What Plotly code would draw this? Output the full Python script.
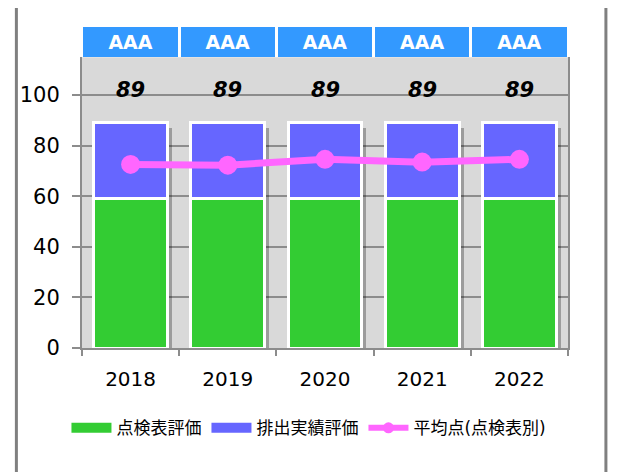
"""Stacked evaluation scores per year with rating header"""
import plotly.graph_objects as go

# Data
years = ["2018", "2019", "2020", "2021", "2022"]
checklist_score = [59, 59, 59, 59, 59]      # 点検表評価
emission_score = [30, 30, 30, 30, 30]       # 排出実績評価
average_score = [72.6, 72.3, 74.6, 73.5, 74.6]  # 平均点(点検表別)
ratings = ["AAA", "AAA", "AAA", "AAA", "AAA"]
totals = [a + b for a, b in zip(checklist_score, emission_score)]

FONT = "DejaVu Sans, Noto Sans CJK JP, sans-serif"
GRID = "#8C8C8C"
GREEN, BLUE, PINK = "#33CC33", "#6666FF", "#FF66FF"
BAR_W = 0.76
Y_RANGE = [0, 115]

fig = go.Figure()

# soft drop shadow behind the stacks (drawn on the base axis, below the bars)
fig.add_trace(go.Bar(
    x=years, y=[t - 2 for t in totals], width=BAR_W,
    offset=-BAR_W / 2 + 0.045,
    marker=dict(color="rgba(0,0,0,0.28)", line=dict(width=0)),
    showlegend=False, hoverinfo="skip",
))

fig.add_trace(go.Bar(
    x=years, y=checklist_score, name="点検表評価", yaxis="y3",
    marker=dict(color=GREEN, line=dict(color="white", width=3)),
    width=BAR_W, showlegend=False,
))
fig.add_trace(go.Bar(
    x=years, y=emission_score, name="排出実績評価", yaxis="y3",
    marker=dict(color=BLUE, line=dict(color="white", width=3)),
    width=BAR_W, showlegend=False,
))
fig.add_trace(go.Scatter(
    x=years, y=average_score, name="平均点(点検表別)", yaxis="y3",
    mode="lines+markers",
    line=dict(color=PINK, width=7),
    marker=dict(color=PINK, size=19),
    showlegend=False,
))

# legend entries (big swatches like the original)
for name, color, width, mode in [
    ("点検表評価", GREEN, 18, "lines"),
    ("排出実績評価", BLUE, 18, "lines"),
    ("平均点(点検表別)", PINK, 6, "lines+markers"),
]:
    fig.add_trace(go.Scatter(
        x=[None], y=[None], name=name, mode=mode,
        line=dict(color=color, width=width),
        marker=dict(color=color, size=11),
    ))

# rating header boxes above the plot
fig.add_trace(go.Bar(
    x=years, y=[1] * len(years), yaxis="y2",
    width=0.97, marker=dict(color="#3399FF", line=dict(width=0)),
    text=ratings, textposition="inside", insidetextanchor="middle",
    textfont=dict(color="white", size=19, family="DejaVu Sans"),
    texttemplate="<b>%{text}</b>",
    showlegend=False, hoverinfo="skip",
))

# total labels (category axis -> use the category index)
for i, tot in enumerate(totals):
    fig.add_annotation(
        x=i, y=tot, yshift=33, showarrow=False,
        text=f"<b><i>{tot}</i></b>",
        font=dict(size=21, color="black", family="DejaVu Sans"),
    )

# gray background of the main plot only
fig.add_shape(type="rect", xref="x domain", yref="y domain",
              x0=0, x1=1, y0=0, y1=1, layer="below",
              fillcolor="#D9D9D9", line=dict(width=0))

# outer frame lines
for xp in (-0.135, 1.078):
    fig.add_shape(type="line", xref="paper", yref="paper",
                  x0=xp, x1=xp, y0=-0.4, y1=1.1,
                  line=dict(color="#808080", width=3))

# page body has an 8px margin, so the figure is 8px smaller
fig.update_layout(
    width=609, height=464,
    margin=dict(l=72, r=49, t=19, b=124),
    paper_bgcolor="white",
    plot_bgcolor="rgba(0,0,0,0)",
    barmode="stack",
    font=dict(family=FONT, size=20, color="black"),
    showlegend=True,
    legend=dict(
        orientation="h", x=0.467, xanchor="center", y=-0.25, yanchor="middle",
        font=dict(size=17, family=FONT), itemwidth=40,
        traceorder="normal",
    ),
    xaxis=dict(
        type="category", range=[-0.5, len(years) - 0.5],
        showline=True, linecolor=GRID, linewidth=2,
        ticks="outside", tickson="boundaries", ticklen=6, tickcolor=GRID,
        tickwidth=2, showgrid=False, ticklabelstandoff=12,
        tickfont=dict(size=20),
    ),
    yaxis=dict(
        domain=[0, 0.906], range=Y_RANGE,
        tickvals=[0, 20, 40, 60, 80, 100],
        showline=True, linecolor=GRID, linewidth=2, mirror=True,
        ticks="outside", ticklen=8, tickcolor=GRID, tickwidth=2,
        showgrid=True, gridcolor=GRID, gridwidth=2,
        zeroline=False, ticklabelstandoff=8,
        tickfont=dict(size=21),
    ),
    yaxis2=dict(
        domain=[0.906, 1], range=[0, 1], visible=False, fixedrange=True,
    ),
    yaxis3=dict(
        overlaying="y", range=Y_RANGE, visible=False, showgrid=False,
    ),
)

fig.write_html("out.html")
